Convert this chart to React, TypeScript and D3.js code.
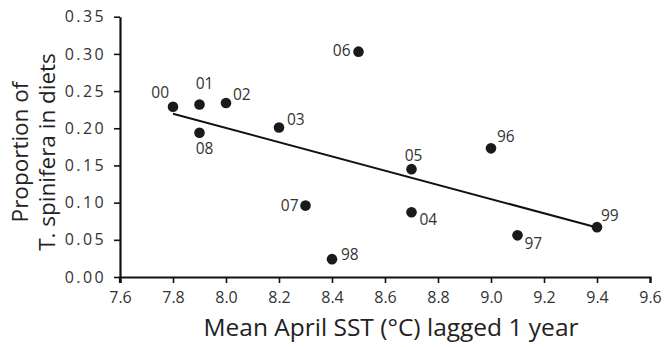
import { axisBottom, axisLeft, format, max, mean, min, scaleLinear, select } from "d3";
import { useEffect, useRef } from "react";

// years (labels), lagged April SST and proportion of T. spinifera
const years = ["00", "01", "02", "08", "03", "06", "05", "96", "07", "04", "98", "97", "99"];
const sst = [7.8, 7.9, 8.0, 7.9, 8.2, 8.5, 8.7, 9.0, 8.3, 8.7, 8.4, 9.1, 9.4];
const proportion = [0.229, 0.232, 0.234, 0.194, 0.201, 0.303, 0.145, 0.173, 0.096, 0.087, 0.024, 0.056, 0.067];

const xTicks = [7.6, 7.8, 8.0, 8.2, 8.4, 8.6, 8.8, 9.0, 9.2, 9.4, 9.6];
const yTicks = [0, 0.05, 0.1, 0.15, 0.2, 0.25, 0.3, 0.35];

// where each year label sits relative to its point
const labelPlace: Record<string, [number, number, string]> = {
  "00": [-4, -9, "end"],
  "01": [5, -15, "middle"],
  "02": [7, -3, "start"],
  "08": [5, 21, "middle"],
  "03": [8, -3, "start"],
  "06": [-8, 4, "end"],
  "05": [2, -8, "middle"],
  "96": [6, -6, "start"],
  "07": [-7, 5, "end"],
  "04": [8, 13, "start"],
  "98": [9, 1, "start"],
  "97": [7, 14, "start"],
  "99": [4, -6, "start"],
};

const WIDTH = 666;
const HEIGHT = 347;
const FONT = "'Open Sans', sans-serif";

function App() {
  const svgRef = useRef<SVGSVGElement>(null);

  useEffect(() => {
    const svg = select(svgRef.current);
    svg.selectAll("*").remove();

    const x = scaleLinear().domain([7.6, 9.6]).range([120, 650]);
    const y = scaleLinear().domain([0, 0.35]).range([277, 16.7]);

    const data = years.map((year, i) => ({ year, sst: sst[i], p: proportion[i] }));

    // least squares fit
    const mx = mean(sst) as number;
    const my = mean(proportion) as number;
    let sxy = 0;
    let sxx = 0;
    sst.forEach((v, i) => {
      sxy += (v - mx) * (proportion[i] - my);
      sxx += (v - mx) * (v - mx);
    });
    const slope = sxy / sxx;
    const intercept = my - slope * mx;
    const x0 = min(sst) as number;
    const x1 = max(sst) as number;

    const xAxis = svg
      .append("g")
      .attr("transform", `translate(0,${y(0)})`)
      .call(
        axisBottom(x)
          .tickValues(xTicks)
          .tickFormat(format(".1f"))
          .tickSize(6)
          .tickSizeOuter(6)
          .tickPadding(9)
      );
    xAxis.select(".domain").attr("stroke", "#111").attr("stroke-width", 2.2);
    xAxis.selectAll(".tick line").attr("stroke", "#111").attr("stroke-width", 1.6);
    xAxis
      .selectAll(".tick text")
      .attr("fill", "#333")
      .style("font-family", FONT)
      .style("font-size", "16px");

    const yAxis = svg
      .append("g")
      .attr("transform", `translate(${x(7.6)},0)`)
      .call(
        axisLeft(y)
          .tickValues(yTicks)
          .tickFormat(format(".2f"))
          .tickSize(6)
          .tickSizeOuter(0)
          .tickPadding(8)
      );
    yAxis.select(".domain").attr("stroke", "#111").attr("stroke-width", 2.2);
    yAxis.selectAll(".tick line").attr("stroke", "#111").attr("stroke-width", 1.6);
    yAxis
      .selectAll(".tick text")
      .attr("fill", "#333")
      .style("font-family", FONT)
      .style("font-size", "16px")
      .style("letter-spacing", "2.4px");
    // let the y axis run a little below the x axis
    yAxis
      .append("line")
      .attr("x1", 0)
      .attr("x2", 0)
      .attr("y1", y(0))
      .attr("y2", y(0) + 6)
      .attr("stroke", "#111")
      .attr("stroke-width", 2.2);

    svg
      .append("line")
      .attr("x1", x(x0))
      .attr("y1", y(intercept + slope * x0))
      .attr("x2", x(x1))
      .attr("y2", y(intercept + slope * x1))
      .attr("stroke", "#111")
      .attr("stroke-width", 2);

    svg
      .selectAll(".dot")
      .data(data)
      .join("circle")
      .attr("class", "dot")
      .attr("cx", (d) => x(d.sst))
      .attr("cy", (d) => y(d.p))
      .attr("r", 5.3)
      .attr("fill", "#1a1a1a");

    svg
      .selectAll(".year")
      .data(data)
      .join("text")
      .attr("class", "year")
      .attr("x", (d) => x(d.sst) + labelPlace[d.year][0])
      .attr("y", (d) => y(d.p) + labelPlace[d.year][1])
      .attr("text-anchor", (d) => labelPlace[d.year][2])
      .attr("fill", "#333")
      .style("font-family", FONT)
      .style("font-size", "15.5px")
      .text((d) => d.year);

    svg
      .append("text")
      .attr("x", 391)
      .attr("y", 336)
      .attr("text-anchor", "middle")
      .attr("fill", "#222")
      .style("font-family", FONT)
      .style("font-size", "24.5px")
      .text("Mean April SST (°C) lagged 1 year");

    const yTitle = svg
      .append("text")
      .attr("transform", "translate(28,152) rotate(-90)")
      .attr("text-anchor", "middle")
      .attr("fill", "#222")
      .style("font-family", FONT)
      .style("font-size", "22.5px");
    yTitle.append("tspan").attr("x", 0).attr("y", 0).text("Proportion of");
    yTitle.append("tspan").attr("x", 0).attr("y", 27).text("T. spinifera in diets");
  }, []);

  return (
    <svg
      ref={svgRef}
      width={WIDTH}
      height={HEIGHT}
      style={{ position: "absolute", left: 0, top: 0, background: "#fff" }}
    />
  );
}

export default App;
